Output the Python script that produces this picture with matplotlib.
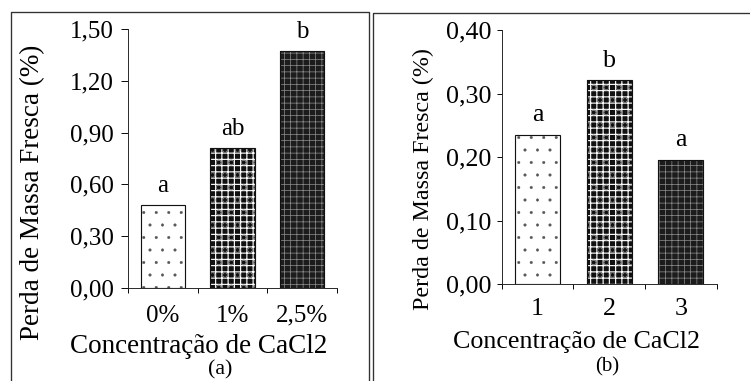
import matplotlib
matplotlib.use("Agg")
import matplotlib.pyplot as plt
from matplotlib.lines import Line2D

plt.rcParams["font.family"] = ["Liberation Serif", "DejaVu Serif"]

# Panel (a): CaCl2 concentration
cat_a = ["0%", "1%", "2,5%"]
val_a = [0.48, 0.81, 1.37]
let_a = ["a", "ab", "b"]
ticks_a = [0.0, 0.3, 0.6, 0.9, 1.2, 1.5]
tlab_a = ["0,00", "0,30", "0,60", "0,90", "1,20", "1,50"]

# Panel (b)
cat_b = ["1", "2", "3"]
val_b = [0.235, 0.321, 0.196]
let_b = ["a", "b", "a"]
ticks_b = [0.0, 0.1, 0.2, 0.3, 0.4]
tlab_b = ["0,00", "0,10", "0,20", "0,30", "0,40"]

ylabel = "Perda de Massa Fresca (%)"
xlabel = "Concentração de CaCl2"

W, H, DPI = 750, 381, 75
fig = plt.figure(figsize=(W / DPI, H / DPI), dpi=DPI)

# bar fill styles: list of (face, hatch colour, hatch, hatch width) layers
styles = [
    [("white", "#555555", ".", 0.4)],
    [("#111111", "white", "++", 1.1), ("none", "#777777", "o", 0.6)],
    [("#1c1c1c", "#8a8a8a", "++", 0.7)],
]


def draw_panel(rect, cats, vals, letters, ticks, tlabels, ymax, width, fs_tick,
               fs_x, fs_y, ylab_xy, xlab_xy, ytick_len, ytick_pad, xtick_pad):
    ax = fig.add_axes(rect)
    x = list(range(len(cats)))
    for i, (xi, v) in enumerate(zip(x, vals)):
        for face, hcol, hatch, hlw in styles[i]:
            with plt.rc_context({"hatch.linewidth": hlw, "hatch.color": hcol}):
                ax.bar(xi, v, width=width, color=face, edgecolor=hcol, hatch=hatch,
                       linewidth=0, zorder=2)
        ax.bar(xi, v, width=width, fill=False, edgecolor="#111111", linewidth=1.1, zorder=3)
        ax.annotate(letters[i], (xi, v), xytext=(0, 8), textcoords="offset points",
                    ha="center", va="bottom", fontsize=fs_tick)
    ax.set_xlim(-0.5, len(cats) - 0.5)
    ax.set_ylim(0, ymax)
    ax.set_yticks(ticks)
    ax.set_yticklabels(tlabels, fontsize=fs_tick)
    ax.set_xticks(x)
    ax.set_xticklabels(cats, fontsize=fs_tick)
    ax.set_xticks([i - 0.5 for i in range(len(cats) + 1)], minor=True)
    ax.tick_params(axis="x", which="major", length=0, pad=xtick_pad)
    ax.tick_params(axis="x", which="minor", length=5, width=0.9, direction="out")
    ax.tick_params(axis="y", length=ytick_len, width=0.9, pad=ytick_pad, direction="out")
    for s in ("top", "right"):
        ax.spines[s].set_visible(False)
    for s in ("left", "bottom"):
        ax.spines[s].set_linewidth(0.9)
        ax.spines[s].set_color("#222222")
    yl = ax.set_ylabel(ylabel, fontsize=fs_y)
    ax.yaxis.set_label_coords(*ylab_xy)
    yl.set_verticalalignment("center")
    xl = ax.set_xlabel(xlabel, fontsize=fs_x)
    ax.xaxis.set_label_coords(*xlab_xy)
    xl.set_verticalalignment("baseline")
    return ax


axa = draw_panel([128 / W, (H - 288) / H, 209 / W, 259 / H], cat_a, val_a, let_a,
                 ticks_a, tlab_a, 1.5, 0.64, 24, 26, 26,
                 (-0.4545, 0.371), (0.337, -0.251), 6.5, 7.5, 16)
axb = draw_panel([501.7 / W, (H - 284) / H, 215 / W, 254 / H], cat_b, val_b, let_b,
                 ticks_b, tlab_b, 0.4, 0.63, 25, 25, 23,
                 (-0.366, 0.415), (0.348, -0.252), 5, 5, 13)

fig.text(220.5 / W, 1 - 370 / H, "(a)", ha="center", va="center", fontsize=21)
fig.text(607.5 / W, 1 - 367 / H, "(b)", ha="center", va="center", fontsize=20)

# panel frames
def fline(xs, ys):
    fig.add_artist(Line2D([v / W for v in xs], [1 - v / H for v in ys],
                          color="#333333", linewidth=1.3, transform=fig.transFigure))

fline([10.5, 10.5, 369, 369], [H + 2, 12, 12, H + 2])
fline([373, 373, W + 2], [H + 2, 12.5, 12.5])

fig.savefig("out.png", dpi=DPI)
